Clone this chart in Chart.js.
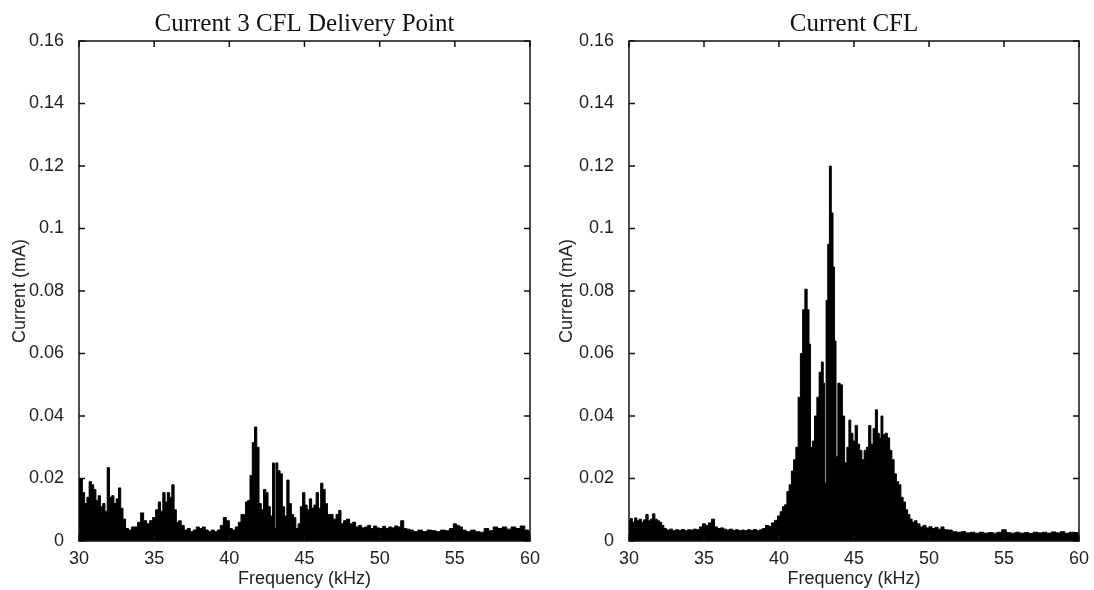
<!DOCTYPE html>
<html>
<head>
<meta charset="utf-8">
<script src="https://cdn.jsdelivr.net/npm/chart.js@4.4.0/dist/chart.umd.min.js"></script>
<style>
  body { margin: 0; background: #fff; }
  #wrap { position: relative; width: 1094px; height: 590px; background: #fff; }
  canvas { position: absolute; top: 0; }
  #left { left: 0; }
  #right { left: 547px; }
</style>
</head>
<body>
<div id="wrap">
  <canvas id="left" width="547" height="590"></canvas>
  <canvas id="right" width="547" height="590"></canvas>
</div>
<script>
// tick labels
const xTicks = [30, 35, 40, 45, 50, 55, 60];
const yTicks = [0, 0.02, 0.04, 0.06, 0.08, 0.1, 0.12, 0.14, 0.16];

// left panel: Current 3 CFL Delivery Point (kHz / mA)
const leftFreq = [
  30.0, 30.15, 30.3, 30.45, 30.6, 30.75, 30.9, 31.05, 31.2, 31.35, 31.5, 31.65, 31.8, 31.95,
  32.1, 32.25, 32.4, 32.55, 32.7, 32.85, 33.0, 33.2, 33.4, 33.6, 33.8, 34.0, 34.2, 34.4,
  34.6, 34.8, 35.0, 35.2, 35.35, 35.5, 35.65, 35.8, 35.95, 36.1, 36.25, 36.4, 36.55, 36.7,
  36.9, 37.1, 37.3, 37.5, 37.7, 37.9, 38.1, 38.3, 38.5, 38.7, 38.9, 39.1, 39.3, 39.5,
  39.7, 39.9, 40.1, 40.3, 40.5, 40.7, 40.85, 41.0, 41.15, 41.3, 41.45, 41.6, 41.75, 41.9,
  42.05, 42.2, 42.35, 42.5, 42.65, 42.8, 42.95, 43.05, 43.15, 43.3, 43.45, 43.6, 43.75, 43.9,
  44.05, 44.2, 44.35, 44.5, 44.65, 44.8, 44.95, 45.1, 45.25, 45.4, 45.55, 45.7, 45.85, 46.0,
  46.15, 46.3, 46.45, 46.6, 46.8, 47.0, 47.2, 47.35, 47.5, 47.7, 47.9, 48.1, 48.3, 48.5,
  48.7, 48.9, 49.1, 49.3, 49.5, 49.7, 49.9, 50.1, 50.3, 50.5, 50.7, 50.9, 51.1, 51.3,
  51.5, 51.7, 51.9, 52.1, 52.4, 52.7, 53.0, 53.3, 53.6, 53.9, 54.2, 54.5, 54.8, 55.0,
  55.2, 55.4, 55.6, 55.9, 56.2, 56.5, 56.8, 57.1, 57.4, 57.7, 58.0, 58.3, 58.6, 58.9,
  59.2, 59.5, 59.8, 60.0
];
const leftCurrent = [
  0.020, 0.020, 0.0155, 0.012, 0.014, 0.019, 0.018, 0.0165, 0.013, 0.0145, 0.011, 0.012, 0.0095, 0.0235,
  0.014, 0.0145, 0.012, 0.0135, 0.017, 0.0105, 0.007, 0.004, 0.0035, 0.0045, 0.0045, 0.006, 0.009, 0.0065,
  0.0055, 0.0065, 0.0075, 0.010, 0.0125, 0.0095, 0.0155, 0.0125, 0.0155, 0.014, 0.018, 0.010, 0.006, 0.0065,
  0.005, 0.0035, 0.004, 0.003, 0.0035, 0.0045, 0.004, 0.0045, 0.0035, 0.003, 0.0035, 0.003, 0.0035, 0.005,
  0.0075, 0.0065, 0.004, 0.0035, 0.0045, 0.006, 0.0085, 0.0085, 0.0125, 0.013, 0.021, 0.0315, 0.0365, 0.030,
  0.012, 0.010, 0.0165, 0.0155, 0.011, 0.008, 0.025, 0.004, 0.025, 0.0225, 0.0215, 0.011, 0.008, 0.0195,
  0.012, 0.0085, 0.0075, 0.004, 0.0055, 0.011, 0.0155, 0.0115, 0.010, 0.0135, 0.0105, 0.0115, 0.0155, 0.0105,
  0.0185, 0.0165, 0.012, 0.0085, 0.0085, 0.007, 0.0085, 0.0098, 0.0055, 0.0065, 0.007, 0.0055, 0.006, 0.0045,
  0.005, 0.0042, 0.0045, 0.005, 0.004, 0.0048, 0.0042, 0.004, 0.0047, 0.004, 0.0045, 0.0042, 0.0048, 0.0045,
  0.0065, 0.004, 0.0038, 0.0035, 0.003, 0.0035, 0.003, 0.0035, 0.0033, 0.003, 0.0035, 0.0033, 0.004, 0.0055,
  0.005, 0.0045, 0.0035, 0.003, 0.0035, 0.003, 0.0028, 0.004, 0.0033, 0.0045, 0.004, 0.0045, 0.0038, 0.0045,
  0.004, 0.0048, 0.0035, 0.003
];

// right panel: Current CFL (kHz / mA)
const rightFreq = [
  30.0, 30.15, 30.3, 30.45, 30.6, 30.75, 30.9, 31.05, 31.2, 31.35, 31.5, 31.65, 31.8, 31.95,
  32.1, 32.25, 32.4, 32.6, 32.8, 33.0, 33.2, 33.4, 33.6, 33.8, 34.0, 34.2, 34.4, 34.6,
  34.8, 35.0, 35.2, 35.4, 35.6, 35.8, 36.0, 36.2, 36.4, 36.6, 36.8, 37.0, 37.2, 37.4,
  37.6, 37.8, 38.0, 38.2, 38.4, 38.6, 38.8, 39.0, 39.2, 39.4, 39.6, 39.8, 40.0, 40.15,
  40.3, 40.45, 40.6, 40.75, 40.9, 41.05, 41.2, 41.35, 41.5, 41.65, 41.8, 41.95, 42.05, 42.15,
  42.3, 42.45, 42.6, 42.75, 42.9, 43.0, 43.08, 43.2, 43.3, 43.42, 43.55, 43.65, 43.75, 43.85,
  44.0, 44.15, 44.3, 44.45, 44.6, 44.72, 44.85, 45.0, 45.15, 45.3, 45.45, 45.6, 45.75, 45.9,
  46.05, 46.2, 46.35, 46.5, 46.62, 46.75, 46.85, 47.0, 47.15, 47.3, 47.45, 47.6, 47.75, 47.9,
  48.05, 48.2, 48.35, 48.5, 48.65, 48.8, 48.95, 49.1, 49.3, 49.5, 49.7, 49.9, 50.1, 50.3,
  50.5, 50.7, 50.9, 51.1, 51.4, 51.7, 52.0, 52.3, 52.6, 52.9, 53.2, 53.5, 53.8, 54.1,
  54.4, 54.7, 55.0, 55.3, 55.6, 55.9, 56.2, 56.5, 56.8, 57.1, 57.4, 57.7, 58.0, 58.3,
  58.6, 58.9, 59.2, 59.5, 59.8, 60.0
];
const rightCurrent = [
  0.0065, 0.0072, 0.006, 0.0074, 0.0065, 0.007, 0.006, 0.0068, 0.0085, 0.0065, 0.007, 0.0087, 0.007, 0.0065,
  0.006, 0.005, 0.004, 0.0035, 0.0038, 0.0033, 0.0036, 0.0034, 0.0037, 0.0033, 0.0036, 0.0035, 0.0038, 0.0036,
  0.0045, 0.0055, 0.005, 0.0058, 0.007, 0.0045, 0.004, 0.0042, 0.0038, 0.0035, 0.0038, 0.0034, 0.0036, 0.0033,
  0.0035, 0.0033, 0.0036, 0.0034, 0.0037, 0.0033, 0.0036, 0.004, 0.005, 0.0047, 0.0058, 0.0066, 0.008, 0.0094,
  0.011, 0.0116, 0.0158, 0.018, 0.0224, 0.026, 0.030, 0.046, 0.060, 0.074, 0.0806, 0.074, 0.063, 0.030,
  0.032, 0.040, 0.046, 0.054, 0.0573, 0.0505, 0.0185, 0.077, 0.095, 0.120, 0.105, 0.0877, 0.064, 0.027,
  0.0505, 0.050, 0.040, 0.025, 0.030, 0.0387, 0.0345, 0.032, 0.037, 0.031, 0.029, 0.026, 0.029, 0.030,
  0.037, 0.031, 0.036, 0.042, 0.0345, 0.033, 0.040, 0.034, 0.0345, 0.033, 0.029, 0.026, 0.0215, 0.019,
  0.018, 0.014, 0.0125, 0.010, 0.0085, 0.007, 0.006, 0.0065, 0.0055, 0.0045, 0.005, 0.0042, 0.0046, 0.004,
  0.0044, 0.0038, 0.0045, 0.0036, 0.0035, 0.003, 0.0028, 0.003, 0.0026, 0.0028, 0.0025, 0.0028, 0.0025, 0.0027,
  0.0025, 0.0028, 0.0036, 0.0027, 0.0025, 0.0028, 0.0025, 0.0027, 0.0024, 0.0028, 0.0026, 0.0028, 0.0025, 0.0029,
  0.0026, 0.003, 0.0025, 0.0028, 0.0027, 0.0026
];

const sans = '"Liberation Sans", Arial, sans-serif';
const serif = '"Liberation Serif", "Times New Roman", serif';

// matlab style box with ticks pointing inward on all four sides
const matlabBox = {
  id: 'matlabBox',
  afterDraw(chart) {
    const { ctx, chartArea: a, scales } = chart;
    const len = 6;
    ctx.save();
    ctx.strokeStyle = '#111';
    ctx.lineWidth = 1.5;
    ctx.strokeRect(a.left, a.top, a.right - a.left, a.bottom - a.top);
    ctx.beginPath();
    scales.x.ticks.forEach(t => {
      const px = scales.x.getPixelForValue(t.value);
      ctx.moveTo(px, a.top); ctx.lineTo(px, a.top + len);
      ctx.moveTo(px, a.bottom); ctx.lineTo(px, a.bottom - len);
    });
    scales.y.ticks.forEach(t => {
      const py = scales.y.getPixelForValue(t.value);
      ctx.moveTo(a.left, py); ctx.lineTo(a.left + len, py);
      ctx.moveTo(a.right, py); ctx.lineTo(a.right - len, py);
    });
    ctx.stroke();
    ctx.restore();
  }
};

function makeChart(id, title, freq, current, yWidth, rightPad) {
  return new Chart(document.getElementById(id), {
    type: 'line',
    data: {
      datasets: [{
        data: freq.map((f, i) => ({ x: f, y: current[i] })),
        borderColor: '#000',
        backgroundColor: '#000',
        borderWidth: 1,
        fill: 'origin',
        pointRadius: 0,
        stepped: 'middle'
      }]
    },
    options: {
      responsive: false,
      animation: false,
      layout: { padding: { left: 0, right: rightPad, top: 0, bottom: 0 } },
      plugins: {
        legend: { display: false },
        tooltip: { enabled: false },
        title: {
          display: true,
          text: title,
          fullSize: false,
          color: '#111',
          font: { family: serif, size: 25, weight: 'normal', lineHeight: 1.2 },
          padding: { top: 9, bottom: 2 }
        }
      },
      scales: {
        x: {
          type: 'linear',
          min: 30,
          max: 60,
          afterBuildTicks: s => { s.ticks = xTicks.map(v => ({ value: v })); },
          afterFit: s => { s.height = 49; },
          ticks: { color: '#222', padding: -1, maxRotation: 0, font: { family: sans, size: 18 }, callback: v => String(v) },
          grid: { display: false },
          border: { display: false },
          title: { display: true, text: 'Frequency (kHz)', color: '#222', font: { family: sans, size: 18 }, padding: { top: 0, bottom: 0 } }
        },
        y: {
          min: 0,
          max: 0.16,
          afterBuildTicks: s => { s.ticks = yTicks.map(v => ({ value: v })); },
          afterFit: s => { s.width = yWidth; },
          ticks: { color: '#222', padding: 7, font: { family: sans, size: 18 }, callback: v => String(v) },
          grid: { display: false },
          border: { display: false },
          title: { display: true, text: 'Current (mA)', color: '#222', font: { family: sans, size: 18 }, padding: { top: 9, bottom: 0 } }
        }
      }
    },
    plugins: [matlabBox]
  });
}

makeChart('left', 'Current 3 CFL Delivery Point', leftFreq, leftCurrent, 79, 17);
makeChart('right', 'Current CFL', rightFreq, rightCurrent, 82, 15);
</script>
</body>
</html>
